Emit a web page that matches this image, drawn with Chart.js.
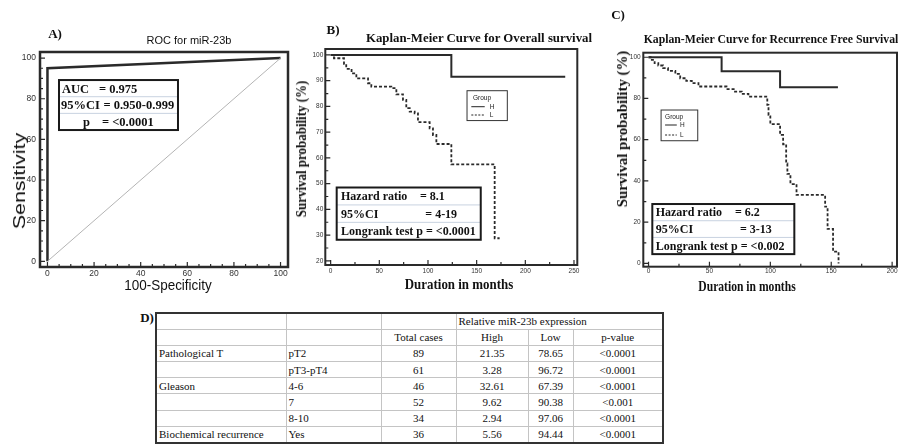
<!DOCTYPE html>
<html>
<head>
<meta charset="utf-8">
<script src="https://cdn.jsdelivr.net/npm/chart.js"></script>
<style>
  body { margin: 0; width: 898px; height: 445px; overflow: hidden; background: #fff; position: relative; }
  canvas { position: absolute; }
  .lbl { position: absolute; white-space: nowrap; line-height: 1; color: #111; }
  table { position: absolute; left: 155px; top: 312px; border-collapse: collapse; table-layout: fixed;
          font: 11px "Liberation Serif"; color: #111; border: 2px solid #333; }
  tr { height: 16.2px; }
  td { border: 1px solid #c4c4c4; padding: 0 2px; white-space: nowrap; overflow: hidden; line-height: 14px; }
  td.c { text-align: center; }
</style>
</head>
<body>
<canvas id="rocChart" width="300" height="290" style="left:0;top:0"></canvas>
<canvas id="osChart" width="300" height="290" style="left:290px;top:0"></canvas>
<canvas id="rfsChart" width="298" height="290" style="left:600px;top:0"></canvas>
<table id="tbl"></table>
<script>
// A) ROC
const rocFpr = [0, 0, 100];
const rocSens = [0, 95, 100];
const chanceFpr = [0, 100];
const chanceSens = [0, 100];
const rocTicks = [0, 20, 40, 60, 80, 100];
const rocStatLabels = ['AUC', '95%CI', 'p'];
const rocStatValues = ['= 0.975', '= 0.950-0.999', '= <0.0001'];

// B) overall survival
const osTimeH = [0, 124, 241];
const osSurvH = [100, 91.5, 91.5];
const osTimeL = [0, 3.4, 13.7, 16, 21.5, 26.4, 38.4, 41.8, 62.3, 67.5, 74.3, 77.7, 81.2, 86.3, 89.7, 101.7, 105.1, 108.6, 124, 168.5, 173.6];
const osSurvL = [100, 98.7, 96.5, 94.6, 92.8, 90.9, 89, 87.7, 87.1, 84.7, 82.5, 79.3, 78, 77.3, 73.9, 71.5, 68.9, 65.4, 57.5, 28.8, 28.8];
const osXTicks = [0, 50, 100, 150, 200, 250];
const osYTicks = [20, 30, 40, 50, 60, 70, 80, 90, 100];
const osStatLabels = ['Hazard ratio', '95%CI', 'Longrank test p = <0.0001'];
const osStatValues = ['= 8.1', '= 4-19', ''];

// C) recurrence free survival
const rfsTimeH = [0, 60, 108, 155.5];
const rfsSurvH = [100, 93.2, 85.5, 85.5];
const rfsTimeL = [0, 2.7, 5, 8, 12, 16, 22, 26, 31, 35.5, 41, 64, 71, 76.5, 82, 97.5, 98.5, 100, 108, 110.5, 113, 114, 116.5, 121.5, 145, 147, 151.5, 156];
const rfsSurvL = [100, 98.7, 97.1, 96, 94.7, 93.4, 91.9, 89.8, 88.5, 87.4, 85.8, 84.5, 83.3, 82.2, 80.9, 76.9, 72, 67.6, 62.3, 57.8, 48.5, 43.4, 38.5, 33.2, 27.5, 16.7, 5.7, 0];
const rfsXTicks = [0, 50, 100, 150, 200];
const rfsYTicks = [0, 20, 40, 60, 80, 100];
const rfsStatLabels = ['Hazard ratio', '95%CI', 'Longrank test p = <0.002'];
const rfsStatValues = ['= 6.2', '= 3-13', ''];

const groupNames = ['H', 'L'];

// D) table
const tableVariables = ['Pathological T', '', 'Gleason', '', '', 'Biochemical recurrence'];
const tableLevels = ['pT2', 'pT3-pT4', '4-6', '7', '8-10', 'Yes'];
const totalCases = [89, 61, 46, 52, 34, 36];
const highPct = [21.35, 3.28, 32.61, 9.62, 2.94, 5.56];
const lowPct = [78.65, 96.72, 67.39, 90.38, 97.06, 94.44];
const pValues = ['<0.0001', '<0.0001', '<0.0001', '<0.001', '<0.0001', '<0.0001'];

const SERIF = '"Liberation Serif", "Times New Roman", serif';
const SANS = '"Liberation Sans", Arial, sans-serif';
const INK = '#2a2a2a';

function pts(xs, ys) {
    return xs.map((x, i) => ({x: x, y: ys[i]}));
}

function axes(o) {
    return {
        x: {
            type: 'linear', min: o.xMin, max: o.xMax,
            grid: {display: false, drawTicks: false}, border: {display: false},
            ticks: {font: {family: SANS, size: o.tickSize}, color: '#333', padding: o.xPad, maxRotation: 0, autoSkip: false},
            afterBuildTicks: s => { s.ticks = o.xTicks.map(v => ({value: v})); },
            afterFit: s => { s.height = o.xH; s.paddingLeft = 0; s.paddingRight = 0; }
        },
        y: {
            type: 'linear', min: o.yMin, max: o.yMax,
            grid: {display: false, drawTicks: false}, border: {display: false},
            ticks: {font: {family: SANS, size: o.tickSize}, color: '#333', padding: o.yPad, autoSkip: false},
            afterBuildTicks: s => { s.ticks = o.yTicks.map(v => ({value: v})); },
            afterFit: s => { s.width = o.yW; s.paddingTop = 0; s.paddingBottom = 0; }
        }
    };
}

// frame, inward ticks, stats box, group legend
function makeDecor(cfg) {
    return {
        id: 'decor',
        afterDatasetsDraw(chart) {
            const ctx = chart.ctx, a = chart.chartArea;
            const xs = chart.scales.x, ys = chart.scales.y;
            ctx.save();
            ctx.strokeStyle = INK;
            ctx.lineWidth = 1.2;
            ctx.beginPath();
            for (let v = Math.ceil(xs.min / cfg.xStep) * cfg.xStep; v <= xs.max; v += cfg.xStep) {
                const p = xs.getPixelForValue(v);
                const len = cfg.xMajor.includes(v) ? 5 : 3;
                ctx.moveTo(p, a.bottom); ctx.lineTo(p, a.bottom - len);
            }
            for (let v = Math.ceil(ys.min / cfg.yStep) * cfg.yStep; v <= ys.max; v += cfg.yStep) {
                const p = ys.getPixelForValue(v);
                const len = cfg.yMajor.includes(v) ? 5 : 3;
                ctx.moveTo(a.left, p); ctx.lineTo(a.left + len, p);
            }
            ctx.stroke();
            ctx.lineWidth = cfg.frame;
            ctx.strokeRect(a.left, a.top, a.right - a.left, a.bottom - a.top);

            const b = cfg.box;
            if (b) {
                const x0 = xs.getPixelForValue(b.x0), x1 = xs.getPixelForValue(b.x1);
                const y0 = ys.getPixelForValue(b.y0), y1 = ys.getPixelForValue(b.y1);
                const n = b.labels.length, rh = (y1 - y0) / n;
                ctx.fillStyle = '#fff';
                ctx.fillRect(x0, y0, x1 - x0, y1 - y0);
                ctx.strokeStyle = '#c8d2e0';
                ctx.lineWidth = 1;
                ctx.beginPath();
                for (let i = 1; i < n; i++) {
                    ctx.moveTo(x0, y0 + rh * i); ctx.lineTo(x1, y0 + rh * i);
                }
                ctx.stroke();
                ctx.strokeStyle = '#1a1a1a';
                ctx.lineWidth = 2;
                ctx.strokeRect(x0, y0, x1 - x0, y1 - y0);
                ctx.fillStyle = '#111';
                ctx.font = b.font;
                ctx.textBaseline = 'middle';
                ctx.textAlign = 'left';
                for (let i = 0; i < n; i++) {
                    const ty = y0 + rh * (i + 0.5) + 1;
                    ctx.fillText(b.labels[i], x0 + b.labelX[i], ty);
                    if (b.values[i]) ctx.fillText(b.values[i], x0 + b.valueX[i], ty);
                }
            }

            const lg = cfg.legend;
            if (lg) {
                const x0 = xs.getPixelForValue(lg.x0), x1 = xs.getPixelForValue(lg.x1);
                const y0 = ys.getPixelForValue(lg.y0), y1 = ys.getPixelForValue(lg.y1);
                ctx.fillStyle = '#fff';
                ctx.fillRect(x0, y0, x1 - x0, y1 - y0);
                ctx.strokeStyle = '#333';
                ctx.lineWidth = 1;
                ctx.strokeRect(x0, y0, x1 - x0, y1 - y0);
                ctx.fillStyle = '#222';
                ctx.font = '6.5px ' + SANS;
                ctx.textBaseline = 'middle';
                ctx.fillText('Group', x0 + lg.titleX, y0 + lg.titleY);
                chart.data.datasets.forEach((ds, i) => {
                    const ly = y0 + lg.rowY[i];
                    ctx.strokeStyle = '#222';
                    ctx.lineWidth = 1;
                    ctx.setLineDash(ds.borderDash ? [2, 1.5] : []);
                    ctx.beginPath();
                    ctx.moveTo(x0 + lg.lineX0, ly); ctx.lineTo(x0 + lg.lineX1, ly);
                    ctx.stroke();
                    ctx.setLineDash([]);
                    ctx.fillText(ds.label, x0 + lg.nameX, ly);
                });
            }
            ctx.restore();
        }
    };
}

// Kaplan-Meier: hold the value, then drop at the event time
function kmSets(tH, sH, tL, sL) {
    return [
        {label: groupNames[0], data: pts(tH, sH), stepped: 'before', borderColor: INK, borderWidth: 2, pointRadius: 0, fill: false},
        {label: groupNames[1], data: pts(tL, sL), stepped: 'before', borderColor: INK, borderWidth: 1.8, borderDash: [3, 2], pointRadius: 0, fill: false}
    ];
}

const baseOptions = {
    responsive: false,
    animation: false,
    devicePixelRatio: 1,
    plugins: {legend: {display: false}, tooltip: {enabled: false}}
};

new Chart(document.getElementById('rocChart'), {
    type: 'line',
    data: {
        datasets: [
            {data: pts(chanceFpr, chanceSens), borderColor: '#b4b4b4', borderWidth: 1, pointRadius: 0, fill: false},
            {data: pts(rocFpr, rocSens), borderColor: INK, borderWidth: 2.5, pointRadius: 0, fill: false, tension: 0}
        ]
    },
    options: Object.assign({}, baseOptions, {
        layout: {padding: {left: 0, right: 12, top: 52, bottom: 0}},
        scales: axes({xMin: -3.2, xMax: 103.2, yMin: -2.8, yMax: 103, xTicks: rocTicks, yTicks: rocTicks,
            tickSize: 8.5, xPad: 1.5, yPad: 4, yW: 40, xH: 23})
    }),
    plugins: [makeDecor({
        frame: 2.5, xStep: 5, yStep: 5, xMajor: rocTicks, yMajor: rocTicks,
        box: {x0: 4.95, y0: 89.2, x1: 56, y1: 64.6, labels: rocStatLabels, values: rocStatValues,
            labelX: [3, 2, 24], valueX: [40, 44.5, 43], font: 'bold 12.5px ' + SERIF}
    })]
});

new Chart(document.getElementById('osChart'), {
    type: 'line',
    data: {datasets: kmSets(osTimeH, osSurvH, osTimeL, osSurvL)},
    options: Object.assign({}, baseOptions, {
        layout: {padding: {left: 0, right: 12.7, top: 49, bottom: 0}},
        scales: axes({xMin: -5.5, xMax: 253.4, yMin: 18.4, yMax: 102.3, xTicks: osXTicks, yTicks: osYTicks,
            tickSize: 6.5, xPad: 2, yPad: 2, yW: 35.3, xH: 25})
    }),
    plugins: [makeDecor({
        frame: 2, xStep: 25, yStep: 5, xMajor: osXTicks, yMajor: osYTicks,
        box: {x0: 6.2, y0: 48.5, x1: 154.2, y1: 28.2, labels: osStatLabels, values: osStatValues,
            labelX: [4.3, 4.3, 4.3], valueX: [83.3, 88.6, 0], font: 'bold 12px ' + SERIF},
        legend: {x0: 140.1, y0: 86.1, x1: 181.5, y1: 74.5, titleX: 6, titleY: 7, lineX0: 4.3, lineX1: 17.7, nameX: 22.7, rowY: [16, 24.3]}
    })]
});

new Chart(document.getElementById('rfsChart'), {
    type: 'line',
    data: {datasets: kmSets(rfsTimeH, rfsSurvH, rfsTimeL, rfsSurvL)},
    options: Object.assign({}, baseOptions, {
        layout: {padding: {left: 0, right: 1, top: 52.7, bottom: 0}},
        scales: axes({xMin: -4.3, xMax: 204, yMin: -1.6, yMax: 102.2, xTicks: rfsXTicks, yTicks: rfsYTicks,
            tickSize: 6.5, xPad: 0.5, yPad: 2.6, yW: 43.3, xH: 23.3})
    }),
    plugins: [makeDecor({
        frame: 2, xStep: 25, yStep: 10, xMajor: rfsXTicks, yMajor: rfsYTicks,
        box: {x0: 3.1, y0: 28.8, x1: 119.7, y1: 4.5, labels: rfsStatLabels, values: rfsStatValues,
            labelX: [3.4, 3.4, 3.4], valueX: [82.7, 87.7, 0], font: 'bold 12px ' + SERIF},
        legend: {x0: 10.3, y0: 74.4, x1: 40.4, y1: 59.5, titleX: 4, titleY: 6.7, lineX0: 4, lineX1: 15.7, nameX: 19, rowY: [15, 25]}
    })]
});

// titles and axis titles
const texts = [
    {text: 'A)', x: 55, y: 34, font: 'bold 13px ' + SERIF},
    {text: 'ROC for miR-23b', x: 189, y: 40, font: '11px ' + SANS, w: 85},
    {text: 'Sensitivity', x: 20, y: 181, font: '17px ' + SANS, w: 97, rot: -90},
    {text: '100-Specificity', x: 167.5, y: 284, font: '15px ' + SANS, w: 88},
    {text: 'B)', x: 333, y: 30, font: 'bold 13px ' + SERIF},
    {text: 'Kaplan-Meier Curve for Overall survival', x: 479, y: 38, font: 'bold 13px ' + SERIF, w: 226},
    {text: 'Survival probability (%)', x: 302, y: 148.5, font: 'bold 14px ' + SERIF, w: 137, rot: -90},
    {text: 'Duration in months', x: 459, y: 285, font: 'bold 14px ' + SERIF, w: 108},
    {text: 'C)', x: 618, y: 15, font: 'bold 13px ' + SERIF},
    {text: 'Kaplan-Meier Curve for Recurrence Free Survival', x: 770.5, y: 39, font: 'bold 13px ' + SERIF, w: 255},
    {text: 'Survival probability (%)', x: 623, y: 128.5, font: 'bold 14px ' + SERIF, w: 157, rot: -90},
    {text: 'Duration in months', x: 746.5, y: 287, font: 'bold 14px ' + SERIF, w: 97},
    {text: 'D)', x: 147, y: 318, font: 'bold 13px ' + SERIF}
];
texts.forEach(t => {
    const el = document.createElement('div');
    el.className = 'lbl';
    el.textContent = t.text;
    el.style.font = t.font;
    document.body.appendChild(el);
    const sx = t.w ? t.w / el.offsetWidth : 1;
    el.style.left = t.x + 'px';
    el.style.top = t.y + 'px';
    el.style.transform = 'translate(-50%, -50%) rotate(' + (t.rot || 0) + 'deg) scaleX(' + sx + ')';
});

// table
const colWidths = [130, 95, 75, 72, 45, 90];
const tbl = document.getElementById('tbl');
const cg = document.createElement('colgroup');
colWidths.forEach(w => {
    const c = document.createElement('col');
    c.style.width = w + 'px';
    cg.appendChild(c);
});
tbl.appendChild(cg);
function addRow(cells) {
    const tr = document.createElement('tr');
    cells.forEach(c => {
        const td = document.createElement('td');
        td.textContent = c.t;
        if (c.center) td.className = 'c';
        if (c.span) td.colSpan = c.span;
        tr.appendChild(td);
    });
    tbl.appendChild(tr);
}
addRow([{t: ''}, {t: ''}, {t: ''}, {t: 'Relative miR-23b expression', span: 3}]);
addRow([{t: ''}, {t: ''}, {t: 'Total cases', center: true}, {t: 'High', center: true}, {t: 'Low', center: true}, {t: 'p-value', center: true}]);
tableLevels.forEach((lv, i) => {
    addRow([
        {t: tableVariables[i]},
        {t: lv},
        {t: String(totalCases[i]), center: true},
        {t: highPct[i].toFixed(2), center: true},
        {t: lowPct[i].toFixed(2), center: true},
        {t: pValues[i], center: true}
    ]);
});
</script>
</body>
</html>
